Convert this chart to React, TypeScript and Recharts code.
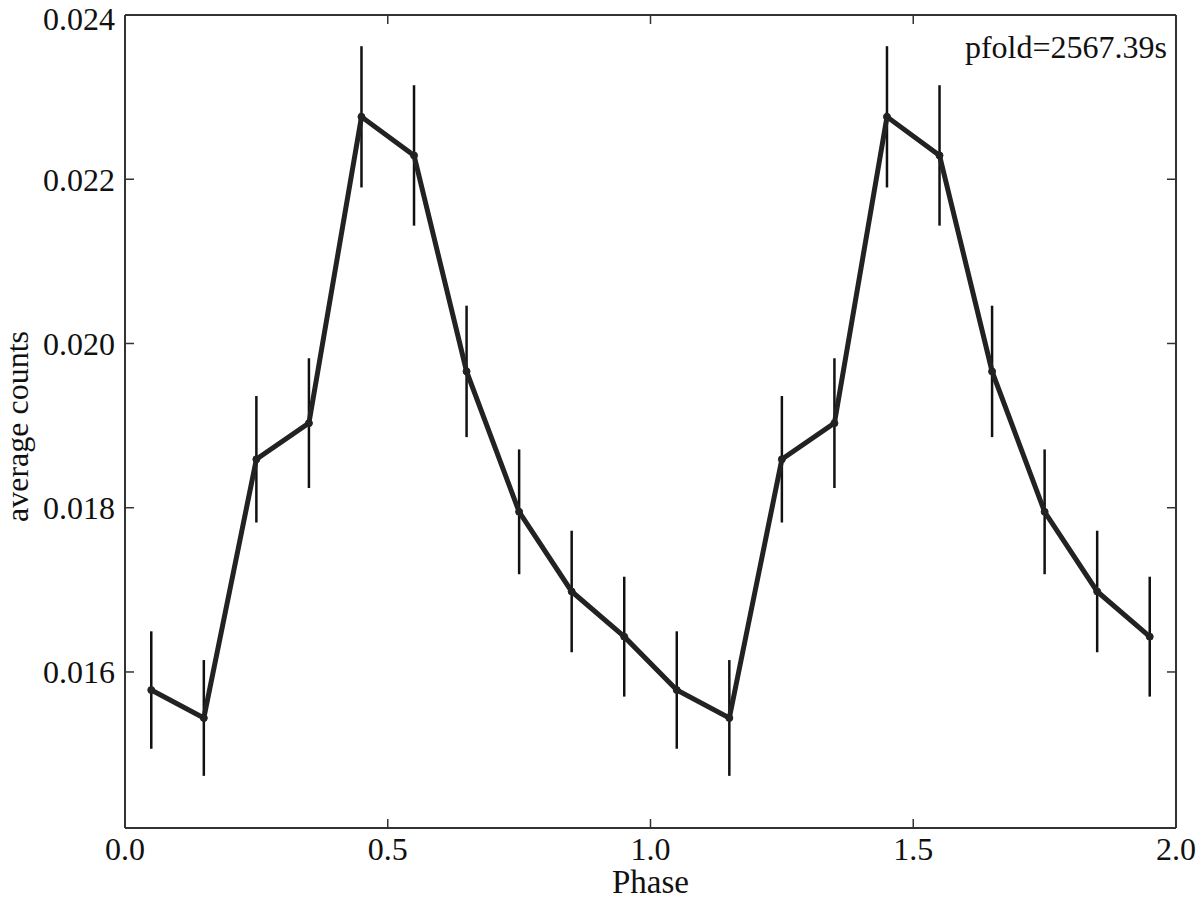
import React from 'react';
import { LineChart, Line, XAxis, YAxis, ErrorBar } from 'recharts';

// phase-folded light curve, two cycles
const phases = [0.05, 0.15, 0.25, 0.35, 0.45, 0.55, 0.65, 0.75, 0.85, 0.95,
  1.05, 1.15, 1.25, 1.35, 1.45, 1.55, 1.65, 1.75, 1.85, 1.95];
const counts = [0.01578, 0.01544, 0.01859, 0.01903, 0.02276, 0.02229, 0.01966, 0.01795, 0.01698, 0.01643,
  0.01578, 0.01544, 0.01859, 0.01903, 0.02276, 0.02229, 0.01966, 0.01795, 0.01698, 0.01643];
const errors = [0.000715, 0.000705, 0.00077, 0.00079, 0.00086, 0.000855, 0.0008, 0.00076, 0.00074, 0.00073,
  0.000715, 0.000705, 0.00077, 0.00079, 0.00086, 0.000855, 0.0008, 0.00076, 0.00074, 0.00073];
const xTicks = [0, 0.5, 1.0, 1.5, 2.0];
const yTicks = [0.016, 0.018, 0.02, 0.022, 0.024];
const annotation = 'pfold=2567.39s';

const FONT = '"Liberation Serif", "DejaVu Serif", serif';
const tickStyle = { fontSize: 32, fill: '#111', fontFamily: FONT };
const labelStyle = { fontSize: 33, fill: '#111', fontFamily: FONT };

const data = phases.map((p, i) => ({ phase: p, counts: counts[i], err: errors[i] }));

export default function App() {
  return (
    <div style={{ position: 'absolute', left: 0, top: 0, width: 1200, height: 899, background: '#fff' }}>
      <LineChart width={1200} height={899} data={data} margin={{ top: 0, right: 0, bottom: 0, left: 0 }}>
        <XAxis
          xAxisId="bottom"
          dataKey="phase"
          type="number"
          domain={[0, 2]}
          ticks={xTicks}
          tickFormatter={(v: number) => v.toFixed(1)}
          height={71}
          axisLine={{ stroke: '#333', strokeWidth: 2 }}
          tickLine={{ stroke: '#333', strokeWidth: 1.5 }}
          tickSize={-9}
          tickMargin={18}
          tick={tickStyle}
          allowDataOverflow
          label={{
            content: (props: any) => {
              const vb = props.viewBox || { x: 125, y: 828, width: 1051, height: 71 };
              return (
                <text x={vb.x + vb.width / 2} y={893} textAnchor="middle" style={labelStyle}>
                  Phase
                </text>
              );
            },
          }}
        />
        <XAxis
          xAxisId="top"
          orientation="top"
          dataKey="phase"
          type="number"
          domain={[0, 2]}
          ticks={xTicks}
          tickFormatter={() => ''}
          height={15}
          axisLine={{ stroke: '#333', strokeWidth: 2 }}
          tickLine={{ stroke: '#333', strokeWidth: 1.5 }}
          tickSize={-9}
          allowDataOverflow
        />
        <YAxis
          yAxisId="left"
          type="number"
          domain={[0.0141, 0.024]}
          ticks={yTicks}
          tickFormatter={(v: number) => v.toFixed(3)}
          width={125}
          axisLine={{ stroke: '#333', strokeWidth: 2 }}
          tickLine={{ stroke: '#333', strokeWidth: 1.5 }}
          tickSize={-9}
          tickMargin={19}
          tick={tickStyle}
          allowDataOverflow
          label={{
            content: (props: any) => {
              const vb = props.viewBox || { x: 0, y: 15, width: 125, height: 813 };
              const cx = vb.x + 21;
              const cy = vb.y + vb.height / 2 + 5;
              return (
                <text x={cx} y={cy} transform={`rotate(-90, ${cx}, ${cy})`} textAnchor="middle"
                  dominantBaseline="middle" style={{ ...labelStyle, fontSize: 32 }}>
                  average counts
                </text>
              );
            },
          }}
        />
        <YAxis
          yAxisId="right"
          orientation="right"
          type="number"
          domain={[0.0141, 0.024]}
          ticks={yTicks}
          tickFormatter={() => ''}
          width={24}
          axisLine={{ stroke: '#333', strokeWidth: 2 }}
          tickLine={{ stroke: '#333', strokeWidth: 1.5 }}
          tickSize={-9}
          allowDataOverflow
          label={{
            content: (props: any) => {
              const vb = props.viewBox || { x: 1176, y: 15, width: 24, height: 813 };
              return (
                <text x={vb.x - 9} y={vb.y + 43} textAnchor="end" style={tickStyle}>
                  {annotation}
                </text>
              );
            },
          }}
        />
        <Line
          xAxisId="bottom"
          yAxisId="left"
          dataKey="counts"
          type="linear"
          stroke="#222"
          strokeWidth={5}
          dot={{ r: 3.5, fill: '#222', stroke: '#222', strokeWidth: 1 }}
          activeDot={false}
          isAnimationActive={false}
        >
          <ErrorBar dataKey="err" direction="y" width={0} stroke="#111" strokeWidth={2.5} />
        </Line>
      </LineChart>
    </div>
  );
}
